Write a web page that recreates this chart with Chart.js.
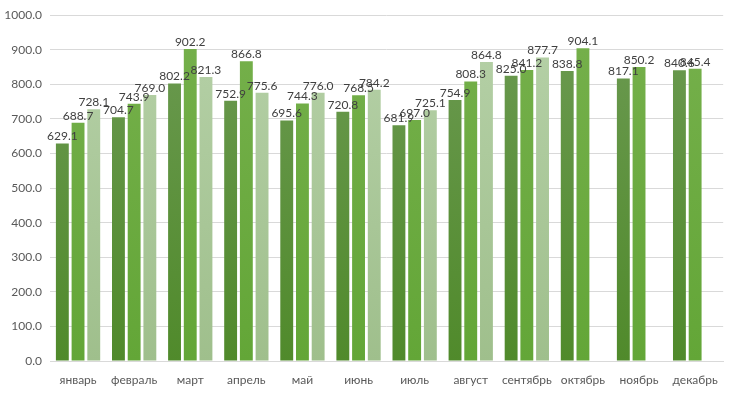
<!DOCTYPE html>
<html>
<head>
<meta charset="utf-8">
<script src="https://cdn.jsdelivr.net/npm/chart.js@4"></script>
<style>
  html, body { margin: 0; padding: 0; background: #fff; }
</style>
</head>
<body>
<canvas id="chart" width="730" height="393"></canvas>
<script>
// months and series
const months = ["январь", "февраль", "март", "апрель", "май", "июнь", "июль", "август", "сентябрь", "октябрь", "ноябрь", "декабрь"];
const series1 = [629.1, 704.7, 802.2, 752.9, 695.6, 720.8, 681.9, 754.9, 825.0, 838.8, 817.1, 840.6];
const series2 = [688.7, 743.9, 902.2, 866.8, 744.3, 768.5, 697.0, 808.3, 841.2, 904.1, 850.2, 845.4];
const series3 = [728.1, 769.0, 821.3, 775.6, 776.0, 784.2, 725.1, 864.8, 877.7, null, null, null];
const yTicks = [0, 100, 200, 300, 400, 500, 600, 700, 800, 900, 1000];

function grad(bottom, top) {
  return (c) => {
    const area = c.chart.chartArea;
    if (!area) return bottom;
    const g = c.chart.ctx.createLinearGradient(0, area.bottom, 0, area.top);
    g.addColorStop(0, bottom);
    g.addColorStop(1, top);
    return g;
  };
}

// simple value labels above bars
const valueLabels = {
  id: "valueLabels",
  afterDatasetsDraw(chart) {
    const ctx = chart.ctx;
    ctx.save();
    ctx.font = "12px Lato, 'DejaVu Sans', sans-serif";
    ctx.fillStyle = "#404040";
    ctx.textAlign = "center";
    ctx.textBaseline = "bottom";
    chart.data.datasets.forEach((ds, i) => {
      chart.getDatasetMeta(i).data.forEach((bar, j) => {
        const v = ds.data[j];
        if (v == null) return;
        ctx.fillText(v.toFixed(1), bar.x, bar.y - 1);
      });
    });
    ctx.restore();
  }
};

new Chart(document.getElementById("chart"), {
  type: "bar",
  data: {
    labels: months,
    datasets: [
      { label: "1", data: series1, backgroundColor: grad("#508a2b", "#6c9a52") },
      { label: "2", data: series2, backgroundColor: grad("#63a637", "#76b04c") },
      { label: "3", data: series3, backgroundColor: grad("#9fbf8c", "#b6d1a8") }
    ]
  },
  plugins: [valueLabels],
  options: {
    responsive: false,
    animation: false,
    devicePixelRatio: 1,
    layout: { padding: { top: 9, right: 5, left: 0, bottom: 0 } },
    datasets: { bar: { categoryPercentage: 0.84, barPercentage: 0.82 } },
    plugins: { legend: { display: false }, tooltip: { enabled: false } },
    scales: {
      x: {
        afterFit: (s) => { s.height = 32; },
        grid: { display: false, drawTicks: false },
        border: { color: "#d9d9d9" },
        ticks: { color: "#595959", font: { family: "Lato", size: 12 }, padding: 12, maxRotation: 0, autoSkip: false }
      },
      y: {
        min: 0, max: 1000,
        afterFit: (s) => { s.width = 50; },
        afterBuildTicks: (axis) => { axis.ticks = yTicks.map(v => ({ value: v })); },
        grid: { color: "#d9d9d9", drawTicks: false },
        border: { display: false },
        ticks: { color: "#595959", font: { family: "Lato", size: 12 }, padding: 8, callback: v => v.toFixed(1) }
      }
    }
  }
});
</script>
</body>
</html>
